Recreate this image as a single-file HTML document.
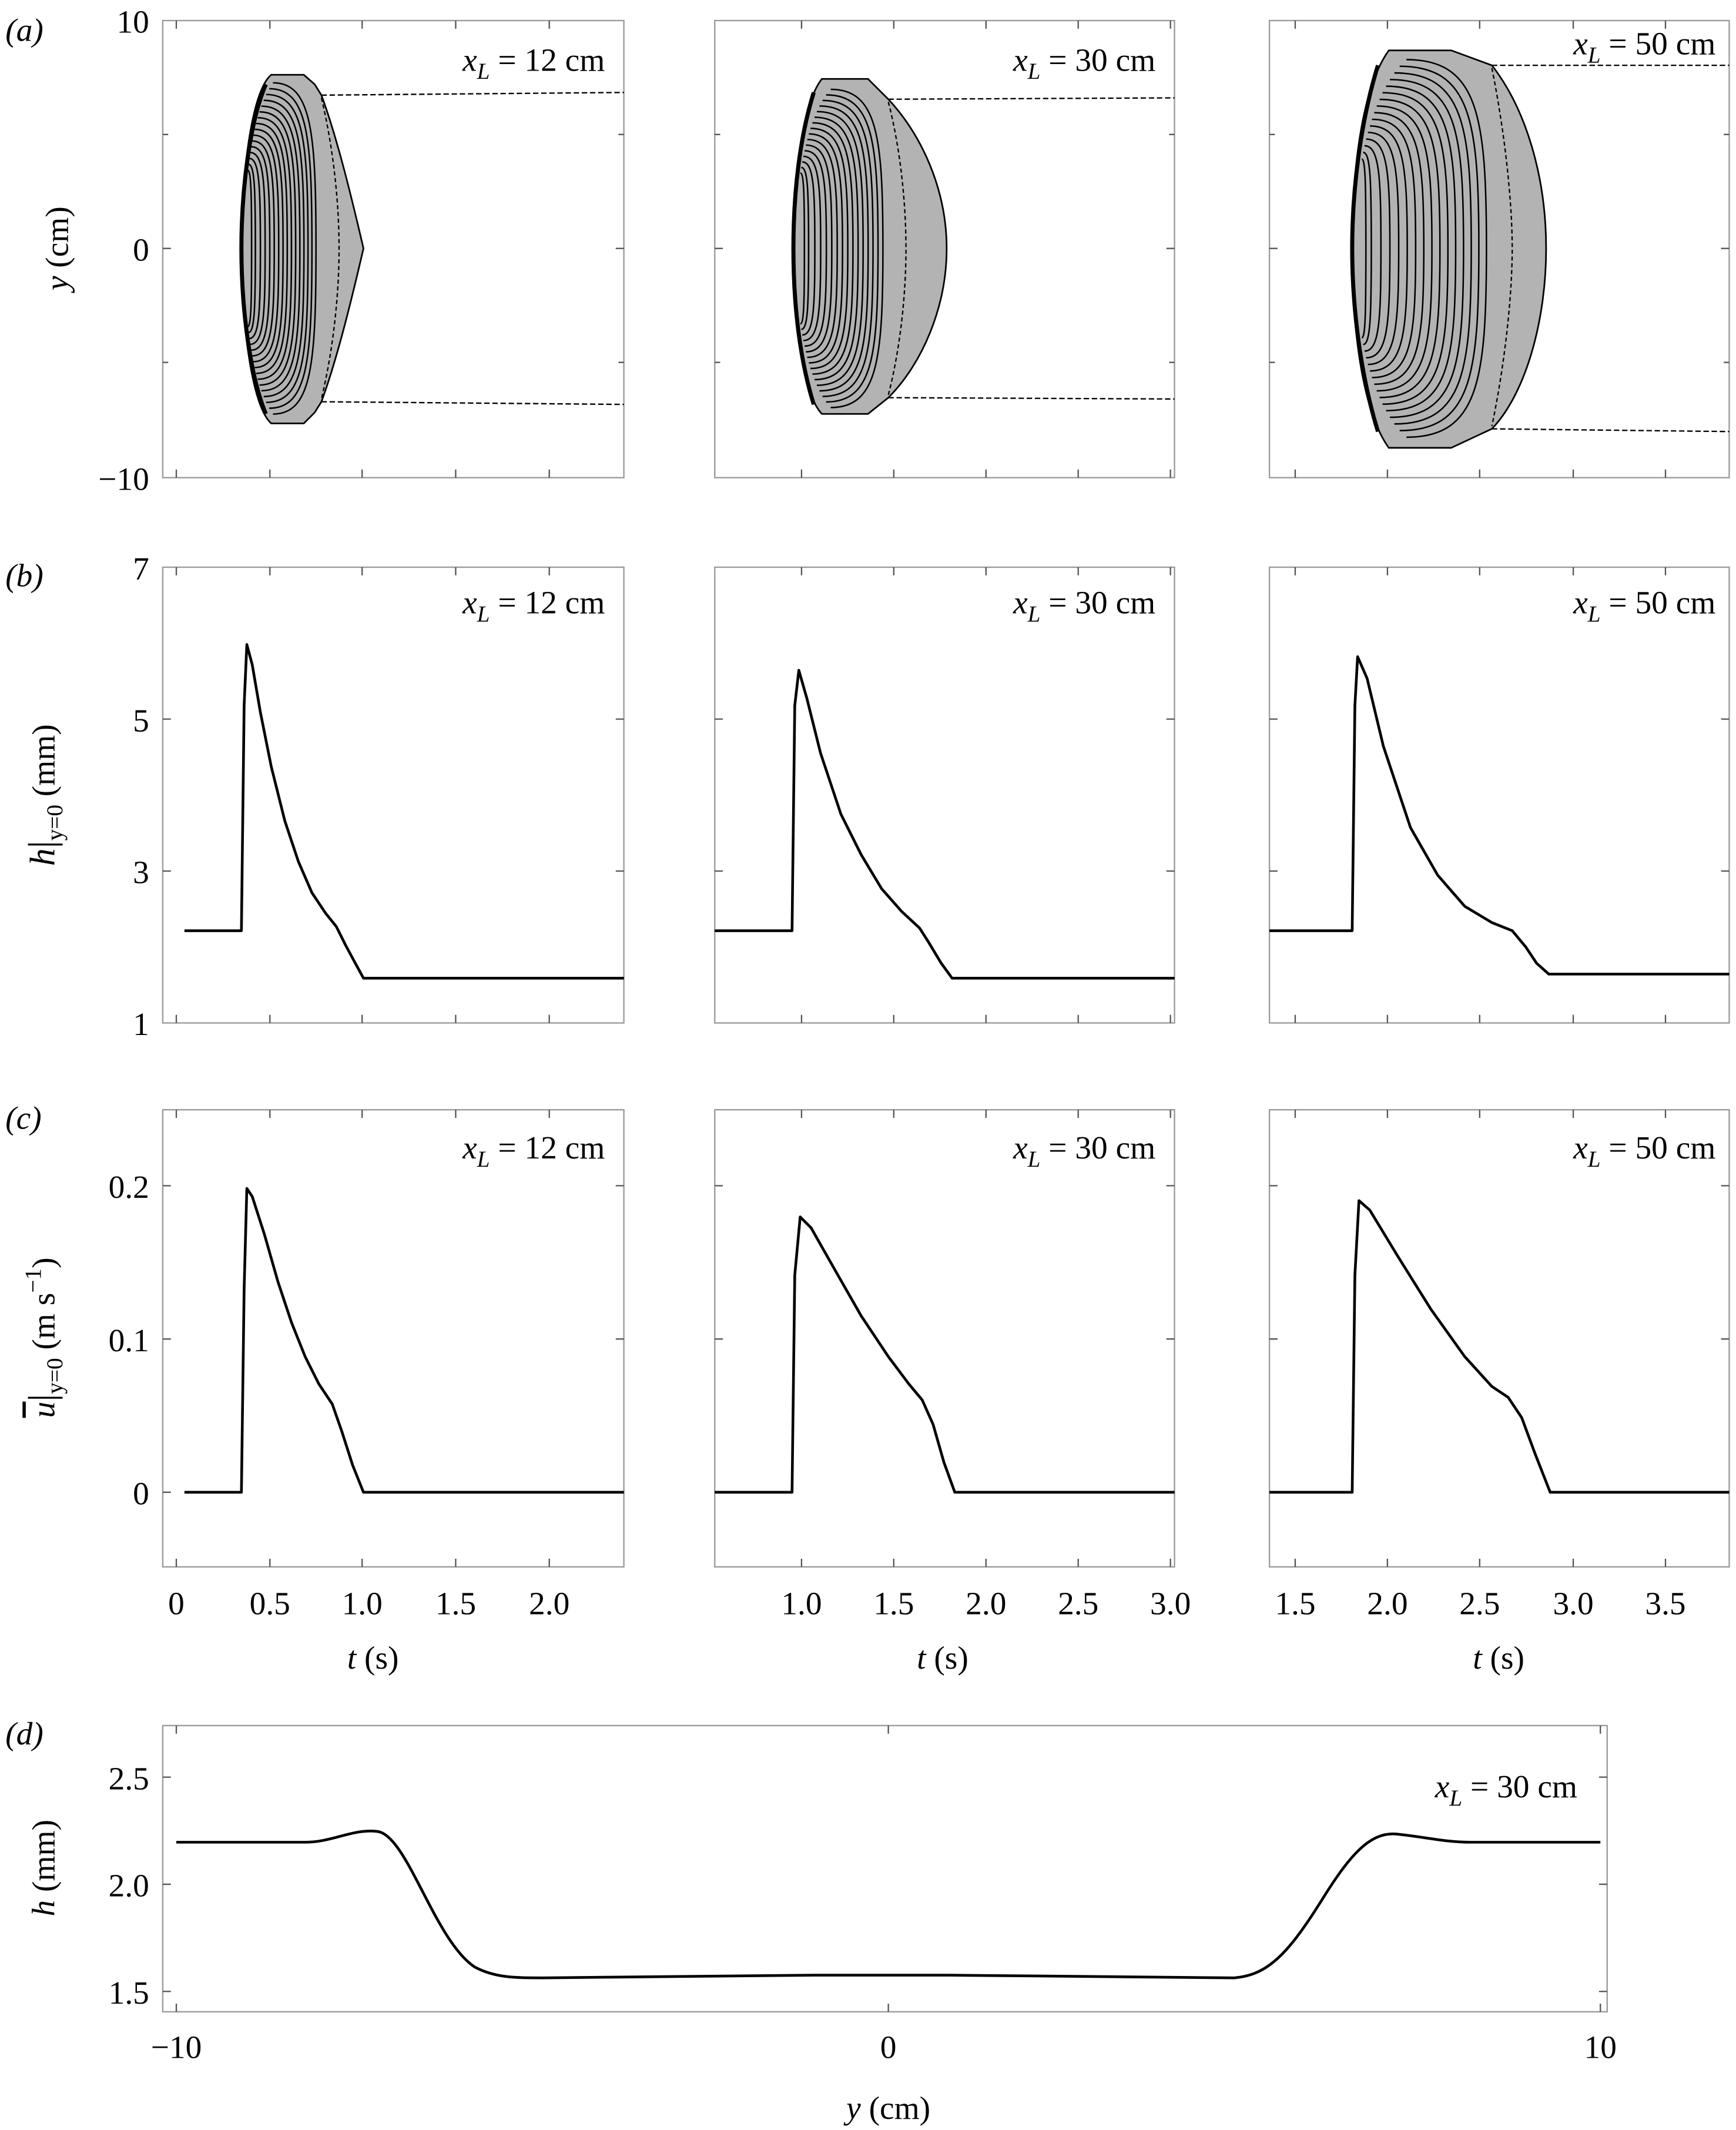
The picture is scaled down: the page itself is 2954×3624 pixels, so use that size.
<!DOCTYPE html>
<html><head><meta charset="utf-8"><style>
html,body{margin:0;padding:0;background:#fff}
svg{display:block}
text{font-family:"Liberation Serif",serif;font-size:24px;fill:#000}
.it{font-style:italic}
</style></head><body>
<svg id="s" width="2954" height="3624" viewBox="0 0 1280 1570" xmlns="http://www.w3.org/2000/svg">
<g fill="none" stroke="#999" stroke-width="1">
<rect x="120" y="15" width="340" height="337"/>
<rect x="527" y="15" width="339" height="337"/>
<rect x="936" y="15" width="339" height="337"/>
<rect x="120" y="418" width="340" height="336"/>
<rect x="527" y="418" width="339" height="336"/>
<rect x="936" y="418" width="339" height="336"/>
<rect x="120" y="818" width="340" height="337"/>
<rect x="527" y="818" width="339" height="337"/>
<rect x="936" y="818" width="339" height="337"/>
<rect x="120" y="1272" width="1065" height="211"/>
</g>
<g stroke="#555" stroke-width="1">
<path d="M130,352v-6M199,352v-6M267,352v-6M336,352v-6M405,352v-6M130,15v6M199,15v6M267,15v6M336,15v6M405,15v6
M130,754v-6M199,754v-6M267,754v-6M336,754v-6M405,754v-6M130,418v6M199,418v6M267,418v6M336,418v6M405,418v6
M130,1155v-6M199,1155v-6M267,1155v-6M336,1155v-6M405,1155v-6M130,818v6M199,818v6M267,818v6M336,818v6M405,818v6"/>
<path d="M591,352v-6M659,352v-6M727,352v-6M795,352v-6M863,352v-6M591,15v6M659,15v6M727,15v6M795,15v6M863,15v6
M591,754v-6M659,754v-6M727,754v-6M795,754v-6M863,754v-6M591,418v6M659,418v6M727,418v6M795,418v6M863,418v6
M591,1155v-6M659,1155v-6M727,1155v-6M795,1155v-6M863,1155v-6M591,818v6M659,818v6M727,818v6M795,818v6M863,818v6"/>
<path d="M955,352v-6M1023,352v-6M1091,352v-6M1160,352v-6M1228,352v-6M955,15v6M1023,15v6M1091,15v6M1160,15v6M1228,15v6
M955,754v-6M1023,754v-6M1091,754v-6M1160,754v-6M1228,754v-6M955,418v6M1023,418v6M1091,418v6M1160,418v6M1228,418v6
M955,1155v-6M1023,1155v-6M1091,1155v-6M1160,1155v-6M1228,1155v-6M955,818v6M1023,818v6M1091,818v6M1160,818v6M1228,818v6"/>
<path d="M120,183h6M460,183h-6M527,183h6M866,183h-6M936,183h6M1275,183h-6
M120,99h4M120,267h4M460,99h-4M460,267h-4M527,99h4M527,267h4M866,99h-4M866,267h-4M936,99h4M936,267h4M1275,99h-4M1275,267h-4
M120,530h6M120,642h6M460,530h-6M460,642h-6M527,530h6M527,642h6M866,530h-6M866,642h-6M936,530h6M936,642h6M1275,530h-6M1275,642h-6
M120,874h6M120,987h6M120,1100h6M460,874h-6M460,987h-6M460,1100h-6M527,874h6M527,987h6M527,1100h6M866,874h-6M866,987h-6M866,1100h-6M936,874h6M936,987h6M936,1100h6M1275,874h-6M1275,987h-6M1275,1100h-6
M120,1310h6M120,1389h6M120,1468h6M1185,1310h-6M1185,1389h-6M1185,1468h-6
M130,1483v-6M655,1483v-6M1180,1483v-6M130,1272v6M655,1272v6M1180,1272v6"/>
</g>
<g stroke="#000" stroke-width="1.2" fill="#b3b3b3">
<path d="M200,55 L224,55 L232,62 L237,70 C248,100 258,140 268,183 C258,226 248,266 237,296 L232,304 L224,312 L200,312 C186,300 178,240 178,183 C178,126 186,66 200,55 Z"/>
<path d="M606,58 L640,58 L655,73 C680,100 698,140 698,183 C698,226 680,268 655,293 L640,305 L606,305 C592,290 585,240 585,183 C585,126 592,76 606,58 Z"/>
<path d="M1024,37 L1070,37 L1100,48 C1125,80 1140,130 1140,183 C1140,236 1125,290 1100,316 L1070,330 L1024,330 C1006,305 997,250 997,183 C997,116 1006,62 1024,37 Z"/>
</g>
<g stroke="#000" stroke-width="3" fill="none">
<path d="M196,62 C184,90 178,140 178,183 C178,226 184,276 196,305"/>
<path d="M600,68 C590,100 585,140 585,183 C585,226 590,266 600,298"/>
<path d="M1016,48 C1003,90 997,140 997,183 C997,226 1003,276 1016,318"/>
</g>
<g id="arcs" stroke="#000" stroke-width="1.1" fill="none"></g>
<g stroke="#000" stroke-width="1" stroke-dasharray="3,2" fill="none">
<path d="M237,72 C246,110 250,150 250,183 C250,216 246,256 237,294"/>
<path d="M655,75 C664,110 668,150 668,183 C668,216 664,256 655,291"/>
<path d="M1100,50 C1110,100 1115,150 1115,183 C1115,216 1110,266 1100,314"/>
</g>
<g stroke="#000" stroke-width="1" stroke-dasharray="4,2" fill="none">
<path d="M237,70 L460,68 M237,296 L460,298"/>
<path d="M655,73 L866,72 M655,293 L866,294"/>
<path d="M1100,48 L1275,48 M1100,316 L1275,318"/>
</g>
<g stroke="#000" stroke-width="2" fill="none" stroke-linejoin="round">
<polyline points="136,686 178,686 180,520 182,475 186,490 192,525 200,565 210,605 220,635 230,658 240,673 248,683 255,697 262,710 268,721 460,721"/>
<polyline points="136,1100 178,1100 180,950 182,876 186,882 195,910 205,945 215,975 225,1000 235,1020 245,1035 252,1055 260,1080 268,1100 460,1100"/>
<polyline points="527,686 584,686 586,520 589,494 595,515 605,555 620,600 635,630 650,655 665,672 678,684 685,695 694,710 702,721 866,721"/>
<polyline points="527,1100 584,1100 586,940 590,897 598,905 615,935 635,970 655,1000 670,1020 680,1032 688,1050 696,1078 704,1100 866,1100"/>
<polyline points="936,686 997,686 999,520 1001,484 1008,500 1020,550 1040,610 1060,645 1080,668 1100,680 1115,686 1125,698 1133,710 1142,718 1275,718"/>
<polyline points="936,1100 997,1100 999,940 1002,885 1010,892 1030,925 1055,965 1080,1000 1100,1022 1112,1030 1122,1045 1132,1072 1143,1100 1275,1100"/>
<path d="M130,1358 L225,1358 C245,1358 260,1348 278,1350 C300,1352 320,1430 350,1450 C365,1458 380,1458 400,1458 L600,1456 L700,1456 L910,1458 C935,1456 950,1440 975,1400 C995,1368 1010,1350 1030,1352 C1050,1354 1065,1358 1085,1358 L1180,1358"/>
</g>
<text x="4" y="30" class="it">(a)</text>
<text x="4" y="432" class="it">(b)</text>
<text x="4" y="832" class="it">(c)</text>
<text x="4" y="1286" class="it">(d)</text>
<g text-anchor="end">
<text x="110" y="24">10</text><text x="110" y="192">0</text><text x="110" y="361">−10</text>
<text x="110" y="427">7</text><text x="110" y="539">5</text><text x="110" y="651">3</text><text x="110" y="763">1</text>
<text x="110" y="883">0.2</text><text x="110" y="996">0.1</text><text x="110" y="1109">0</text>
<text x="110" y="1319">2.5</text><text x="110" y="1398">2.0</text><text x="110" y="1477">1.5</text>
</g>
<g text-anchor="middle">
<text x="130" y="1190">0</text><text x="199" y="1190">0.5</text><text x="267" y="1190">1.0</text><text x="336" y="1190">1.5</text><text x="405" y="1190">2.0</text>
<text x="591" y="1190">1.0</text><text x="659" y="1190">1.5</text><text x="727" y="1190">2.0</text><text x="795" y="1190">2.5</text><text x="863" y="1190">3.0</text>
<text x="955" y="1190">1.5</text><text x="1023" y="1190">2.0</text><text x="1091" y="1190">2.5</text><text x="1160" y="1190">3.0</text><text x="1228" y="1190">3.5</text>
<text x="130" y="1517">−10</text><text x="655" y="1517">0</text><text x="1180" y="1517">10</text>
<text x="275" y="1230"><tspan class="it">t</tspan> (s)</text>
<text x="695" y="1230"><tspan class="it">t</tspan> (s)</text>
<text x="1105" y="1230"><tspan class="it">t</tspan> (s)</text>
<text x="655" y="1562"><tspan class="it">y</tspan> (cm)</text>
</g>
<text transform="translate(50,183) rotate(-90)" text-anchor="middle"><tspan class="it">y</tspan> (cm)</text>
<text transform="translate(40,586) rotate(-90)" text-anchor="middle"><tspan class="it" font-size="26">h</tspan><tspan font-size="28">|</tspan><tspan font-size="17" dy="6">y=0</tspan><tspan dy="-6"> (mm)</tspan></text>
<text transform="translate(40,986) rotate(-90)" text-anchor="middle"><tspan class="it" text-decoration="overline">u</tspan><tspan font-size="28">|</tspan><tspan font-size="17" dy="6">y=0</tspan><tspan dy="-6"> (m s</tspan><tspan font-size="17" dy="-10">−1</tspan><tspan dy="10">)</tspan></text>
<text transform="translate(40,1377) rotate(-90)" text-anchor="middle"><tspan class="it">h</tspan> (mm)</text>
<g text-anchor="end">
<text x="446" y="52"><tspan class="it">x</tspan><tspan class="it" font-size="17" dy="6">L</tspan><tspan dy="-6"> = 12  cm</tspan></text>
<text x="852" y="52"><tspan class="it">x</tspan><tspan class="it" font-size="17" dy="6">L</tspan><tspan dy="-6"> = 30  cm</tspan></text>
<text x="1265" y="40"><tspan class="it">x</tspan><tspan class="it" font-size="17" dy="6">L</tspan><tspan dy="-6"> = 50  cm</tspan></text>
<text x="446" y="452"><tspan class="it">x</tspan><tspan class="it" font-size="17" dy="6">L</tspan><tspan dy="-6"> = 12  cm</tspan></text>
<text x="852" y="452"><tspan class="it">x</tspan><tspan class="it" font-size="17" dy="6">L</tspan><tspan dy="-6"> = 30  cm</tspan></text>
<text x="1265" y="452"><tspan class="it">x</tspan><tspan class="it" font-size="17" dy="6">L</tspan><tspan dy="-6"> = 50  cm</tspan></text>
<text x="446" y="854"><tspan class="it">x</tspan><tspan class="it" font-size="17" dy="6">L</tspan><tspan dy="-6"> = 12  cm</tspan></text>
<text x="852" y="854"><tspan class="it">x</tspan><tspan class="it" font-size="17" dy="6">L</tspan><tspan dy="-6"> = 30  cm</tspan></text>
<text x="1265" y="854"><tspan class="it">x</tspan><tspan class="it" font-size="17" dy="6">L</tspan><tspan dy="-6"> = 50  cm</tspan></text>
<text x="1163" y="1325"><tspan class="it">x</tspan><tspan class="it" font-size="17" dy="6">L</tspan><tspan dy="-6"> = 30  cm</tspan></text>
</g>
</svg>
<script>
(function(){
var panels=[{L:178,top:55,bot:312,xd:237,cy:183},{L:585,top:58,bot:305,xd:655,cy:183},{L:997,top:37,bot:330,xd:1100,cy:183}];
var d="";
panels.forEach(function(p){
 var H=(p.bot-p.top)/2, W=(p.xd-p.L);
 var Rl=W*0.55;
 var N=16;
 for(var i=0;i<N;i++){
  var t=i/(N-1);
  var yT=p.cy-H*(0.45+0.5*t);
  var yB=2*p.cy-yT;
  var dy=(yT-p.cy)/H;
  var x0=p.L+Rl*(1-Math.sqrt(Math.max(0,1-dy*dy)))+1;
  var R=p.L+6+(W-10)*Math.pow(t,0.9);
  if(R<x0+3)R=x0+3;
  var k=(p.cy-yT);
  d+="M"+x0.toFixed(1)+","+yT.toFixed(1)+" C"+(x0+(R-x0)*0.9).toFixed(1)+","+yT.toFixed(1)+" "+R.toFixed(1)+","+(yT+k*0.3).toFixed(1)+" "+R.toFixed(1)+","+p.cy+
     " C"+R.toFixed(1)+","+(yB-k*0.3).toFixed(1)+" "+(x0+(R-x0)*0.9).toFixed(1)+","+yB.toFixed(1)+" "+x0.toFixed(1)+","+yB.toFixed(1)+" ";
 }
});
var pth=document.createElementNS("http://www.w3.org/2000/svg","path");
pth.setAttribute("d",d);
document.getElementById("arcs").appendChild(pth);
})();
</script>
</body></html>
